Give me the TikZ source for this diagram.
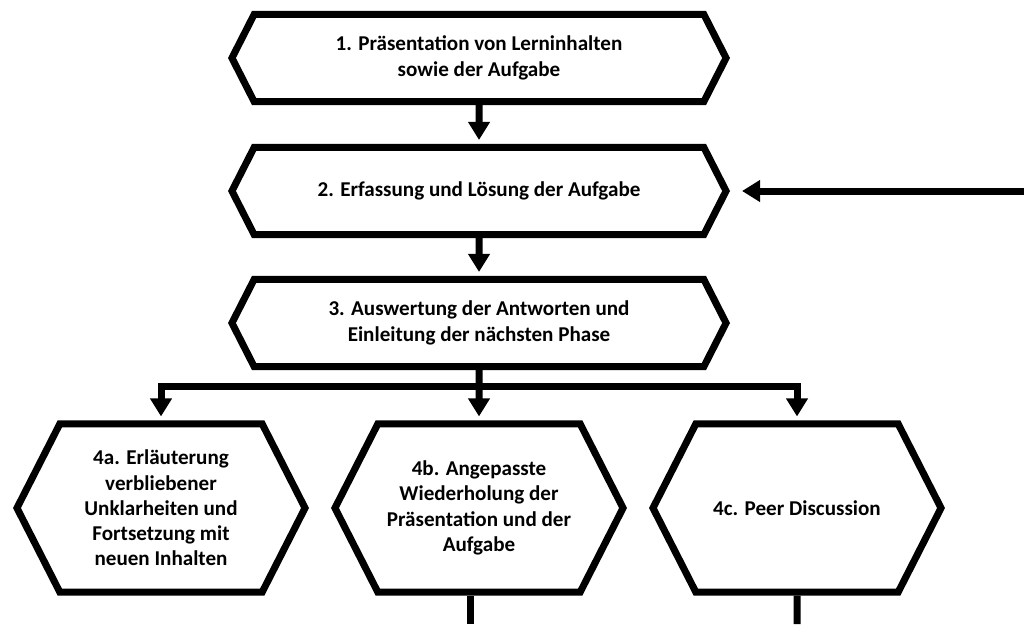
\documentclass[tikz,border=0pt]{standalone}
\usepackage{fontspec}
\setmainfont{Carlito}
\usepackage{tikz}
\usetikzlibrary{shapes.symbols, arrows.meta}

\begin{document}
\begin{tikzpicture}[x=0.025cm, y=-0.025cm]
  \tikzstyle{phase} = [signal, signal to=east and west, signal pointer angle=126, draw, line width=0.175cm, inner sep=0pt, align=center, font=\bfseries\fontsize{15}{18}\selectfont]
  \tikzstyle{wide} = [phase, minimum width=12.35cm, minimum height=2.175cm]
  \tikzstyle{tall} = [phase, minimum width=7.2cm, minimum height=4.2cm]
  \tikzstyle{edge} = [-{Triangle[width=0.52cm, length=0.45cm]}, line width=0.175cm, shorten >=0.1cm]
  \tikzstyle{link} = [line width=0.175cm]

  \useasboundingbox (0,0) rectangle (1024,624);

  \node[wide] (p1) at (479,58) {1. Präsentation von Lerninhalten\\sowie der Aufgabe};
  \node[wide] (p2) at (479,191) {2. Erfassung und Lösung der Aufgabe};
  \node[wide] (p3) at (479,323) {3. Auswertung der Antworten und\\Einleitung der nächsten Phase};
  \node[tall] (p4a) at (161,508) {4a. Erläuterung\\verbliebener\\Unklarheiten und\\Fortsetzung mit\\neuen Inhalten};
  \node[tall] (p4b) at (479,508) {4b. Angepasste\\Wiederholung der\\Präsentation und der\\Aufgabe};
  \node[tall] (p4c) at (797,508) {4c. Peer Discussion};

  \coordinate (split) at (479,386);
  \coordinate (back) at (1024,191);
  \coordinate (out4b) at (470,624);
  \coordinate (out4c) at (797,624);

  \draw[edge] (p1) -- (p2);
  \draw[edge] (p2) -- (p3);
  \draw[link] (p3) -- (split);
  \draw[edge] (split) -| (p4a);
  \draw[edge] (split) -- (p4b);
  \draw[edge] (split) -| (p4c);
  \draw[edge, shorten >=0.3cm] (back) -- (p2.east);
  \draw[link] (p4b.south -| out4b) -- (out4b);
  \draw[link] (p4c) -- (out4c);
\end{tikzpicture}
\end{document}
